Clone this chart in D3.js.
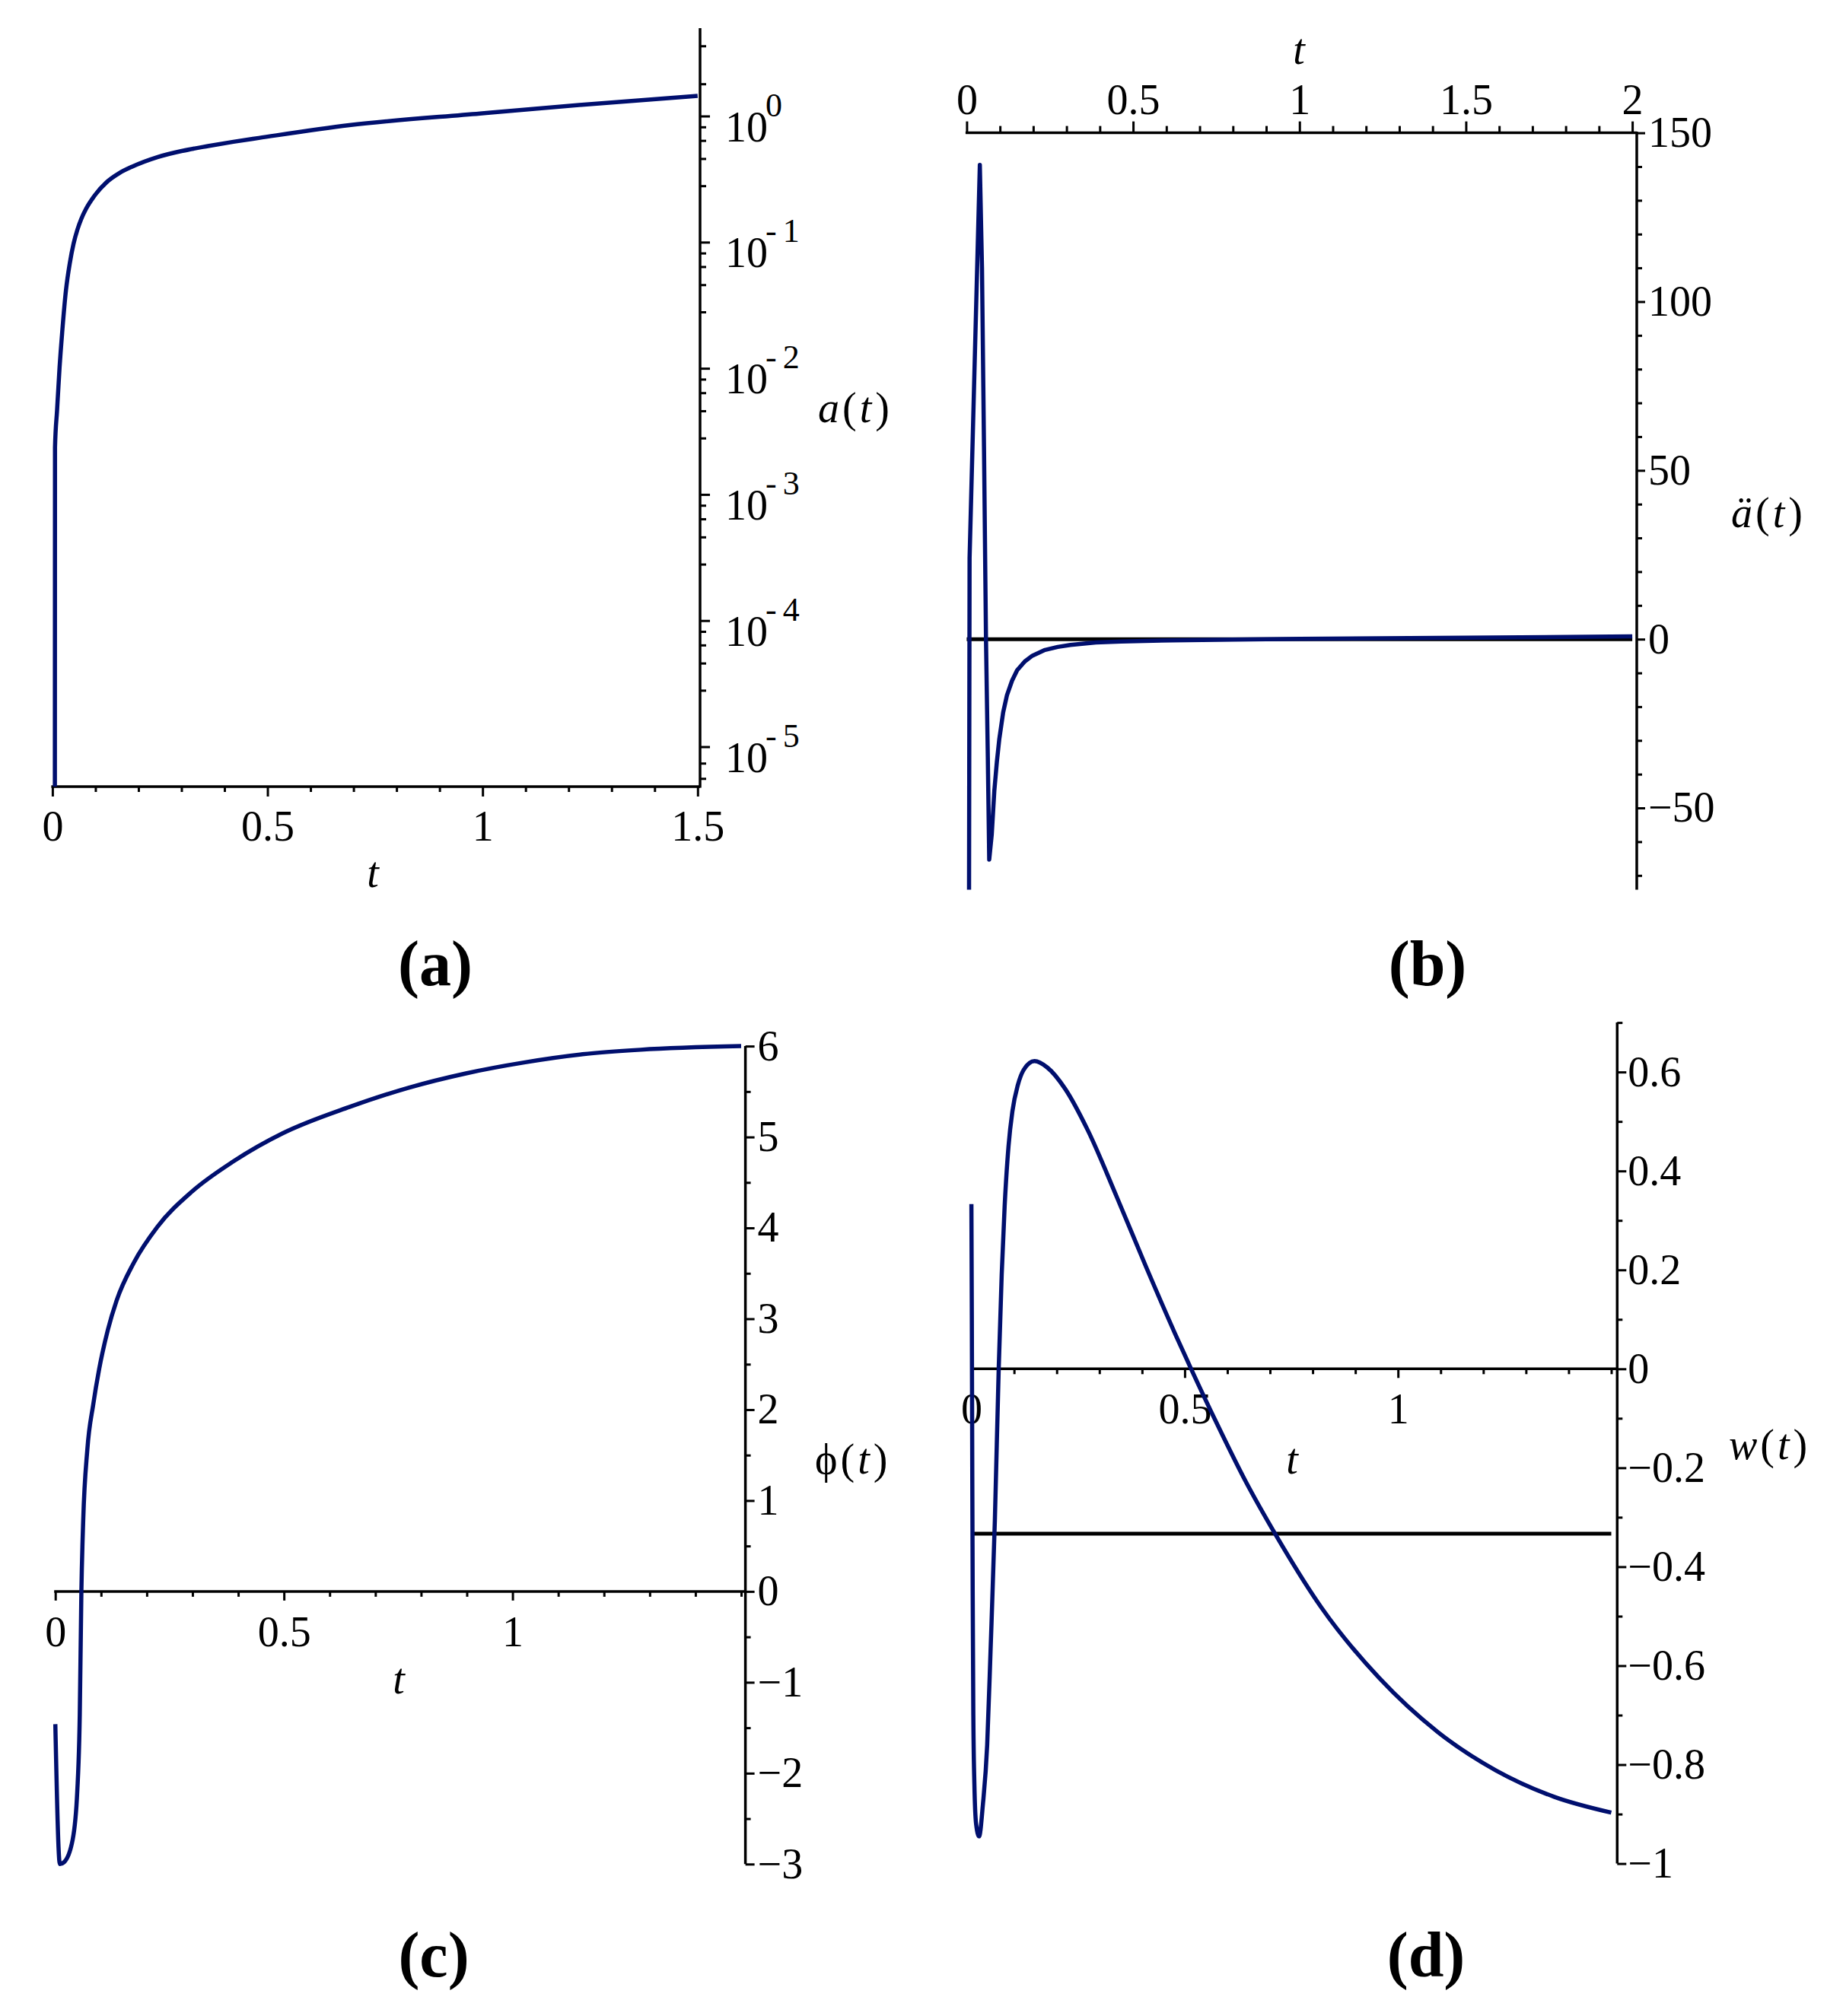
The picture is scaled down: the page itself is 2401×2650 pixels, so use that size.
<!DOCTYPE html>
<html>
<head>
<meta charset="utf-8">
<script src="https://cdn.jsdelivr.net/npm/d3@7"></script>
<style>
  body { margin: 0; background: #fff; }
  svg text { font-family: "Liberation Serif", "Times New Roman", serif; fill: #000; }
</style>
</head>
<body>
<svg id="fig" width="2401" height="2650"></svg>
<script>
// ---- (a) a(t), log scale ----
const tA = [0.0055, 0.0060, 0.0108, 0.0166, 0.0226, 0.0315, 0.0403, 0.0492, 0.058, 0.0669, 0.0786, 0.0962, 0.1258,
  0.1553, 0.1847, 0.2438, 0.3027, 0.3616, 0.4207, 0.4797, 0.69, 0.994, 1.231, 1.5];
const aA = [1e-7, 0.00236, 0.00466, 0.01016, 0.01914, 0.0417, 0.0679, 0.0975, 0.1254, 0.1524, 0.185, 0.2296, 0.2984,
  0.3524, 0.396, 0.472, 0.530, 0.578, 0.625, 0.670, 0.847, 1.047, 1.227, 1.445];
const aMajor = [1e-5, 1e-4, 1e-3, 1e-2, 1e-1, 1];
const aExp = ['-5', '-4', '-3', '-2', '-1', '0'];
const aMinor = [3.6, 1.8, 0.82, 0.64, 0.46, 0.28, 0.082, 0.064, 0.046, 0.028, 0.0082, 0.0064, 0.0046, 0.0028,
  0.00082, 0.00064, 0.00046, 0.00028, 0.000082, 0.000064, 0.000046, 0.000028, 0.0000074, 0.0000056];
const tMajorA = [0, 0.5, 1, 1.5];
const tMinorA = [0.1, 0.2, 0.3, 0.4, 0.6, 0.7, 0.8, 0.9, 1.1, 1.2, 1.3, 1.4];

// ---- (b) second derivative ----
const tB = [0.005, 0.0087, 0.0395, 0.046, 0.052, 0.058, 0.0635, 0.0677, 0.0753, 0.083, 0.0906, 0.0981, 0.1096, 0.121, 0.1363,
  0.1516, 0.1745, 0.1973, 0.2353, 0.2735, 0.3117, 0.388, 0.464, 0.6165, 0.8, 1.0, 1.5, 2.0];
const addB = [-200, 24, 140.5, 110, 57, 0, -35, -65.3, -57.9, -45.0, -36.4, -29.5, -21.7, -16.6, -12.3,
  -9.2, -6.6, -4.9, -3.2, -2.3, -1.7, -1.0, -0.7, -0.35, -0.15, 0.1, 0.45, 0.8];
const tMajorB = [0, 0.5, 1, 1.5, 2];
const tMinorB = [0.1, 0.2, 0.3, 0.4, 0.6, 0.7, 0.8, 0.9, 1.1, 1.2, 1.3, 1.4, 1.6, 1.7, 1.8, 1.9];
const yMajorB = [-50, 0, 50, 100, 150];
const yMinorB = [-70, -60, -40, -30, -20, -10, 10, 20, 30, 40, 60, 70, 80, 90, 110, 120, 130, 140];

// ---- (c) phi(t) ----
const tC = [0, 0.010, 0.019, 0.038, 0.048, 0.0535, 0.057, 0.061, 0.070, 0.083, 0.096, 0.115, 0.134, 0.172, 0.223,
  0.299, 0.389, 0.497, 0.643, 0.771, 0.898, 1.025, 1.153, 1.28, 1.5];
const phiC = [-1.46, -3.0, -2.98, -2.73, -2.2, -1.35, 0, 0.78, 1.56, 2.06, 2.45, 2.88, 3.2, 3.62, 4.01,
  4.40, 4.73, 5.04, 5.33, 5.54, 5.70, 5.82, 5.91, 5.96, 6.0];
const tMajorC = [0, 0.5, 1];
const tMinorC = [0.1, 0.2, 0.3, 0.4, 0.6, 0.7, 0.8, 0.9, 1.1, 1.2, 1.3, 1.4, 1.5];
const yMajorC = [-3, -2, -1, 0, 1, 2, 3, 4, 5, 6];
const yMinorC = [-2.5, -1.5, -0.5, 0.5, 1.5, 2.5, 3.5, 4.5, 5.5];

// ---- (d) w(t) ----
const tD = [0, 0.001, 0.002, 0.003, 0.0045, 0.007, 0.011, 0.018, 0.027, 0.037, 0.045, 0.055, 0.064, 0.071, 0.078,
  0.087, 0.096, 0.109, 0.123, 0.148, 0.178, 0.219, 0.273, 0.342, 0.41, 0.478, 0.515, 0.574, 0.642, 0.713,
  0.82, 0.956, 1.093, 1.23, 1.366, 1.5];
const wD = [0.333, 0.1, -0.2, -0.45, -0.7, -0.84, -0.92, -0.945, -0.88, -0.76, -0.567, -0.306, 0, 0.19, 0.33,
  0.45, 0.52, 0.574, 0.605, 0.622, 0.609, 0.567, 0.482, 0.345, 0.205, 0.07, 0, -0.108, -0.226, -0.335,
  -0.482, -0.625, -0.734, -0.812, -0.865, -0.897];
const wRef = -1 / 3;
const tMajorD = [0, 0.5, 1];
const tMinorD = [0.1, 0.2, 0.3, 0.4, 0.6, 0.7, 0.8, 0.9, 1.1, 1.2, 1.3, 1.4, 1.5];
const yMajorD = [-1, -0.8, -0.6, -0.4, -0.2, 0, 0.2, 0.4, 0.6];
const yMinorD = [-0.9, -0.7, -0.5, -0.3, -0.1, 0.1, 0.3, 0.5, 0.7];

const svg = d3.select('#fig');
svg.append('rect').attr('width', 2401).attr('height', 2650).attr('fill', '#fff');

const navy = '#000f6e';
const FS = 56;
const AXW = 3.5;
const SERIF = '"Liberation Serif", "Times New Roman", serif';
const fmt = v => (v < 0 ? '\u2212' + Math.abs(v) : String(v));

function axisLine(x1, y1, x2, y2) {
  svg.append('line')
    .attr('x1', x1).attr('y1', y1).attr('x2', x2).attr('y2', y2)
    .attr('stroke', '#000').attr('stroke-width', AXW);
}

function ticks(orient, scale, at, values, len, labels, pad) {
  const make = { top: d3.axisTop, bottom: d3.axisBottom, right: d3.axisRight, left: d3.axisLeft }[orient];
  const horiz = orient === 'top' || orient === 'bottom';
  const g = svg.append('g')
    .attr('transform', horiz ? `translate(0,${at})` : `translate(${at},0)`)
    .call(make(scale).tickValues(values).tickSize(len).tickSizeOuter(0)
      .tickPadding(pad || 0).tickFormat(labels ? fmt : () => ''));
  // d3 sets its own font on the group, so override afterwards
  g.attr('font-size', FS).attr('font-family', SERIF);
  g.select('.domain').remove();
  g.selectAll('.tick line').attr('stroke', '#000').attr('stroke-width', 3);
  g.selectAll('.tick text').attr('fill', '#000');
  return g;
}

// label like a(t) with italic letters
function fnLabel(x, y, head, italicHead) {
  const t = svg.append('text').attr('x', x).attr('y', y).attr('font-size', FS);
  t.append('tspan').text(head).attr('font-style', italicHead ? 'italic' : null);
  t.append('tspan').text('(').attr('dx', 4);
  t.append('tspan').text('t').attr('font-style', 'italic').attr('dx', 4);
  t.append('tspan').text(')').attr('dx', 5);
}

function tLabel(x, y) {
  svg.append('text').attr('x', x).attr('y', y).attr('font-size', FS)
    .attr('font-style', 'italic').attr('text-anchor', 'middle').text('t');
}

function panelTag(x, y, s) {
  svg.append('text').attr('x', x).attr('y', y).attr('font-size', 84)
    .attr('font-weight', 'bold').attr('text-anchor', 'middle')
    .text(`(${s})`);
}

function clip(id, x, y, w, h) {
  svg.append('clipPath').attr('id', id).append('rect')
    .attr('x', x).attr('y', y).attr('width', w).attr('height', h);
  return `url(#${id})`;
}

function curve(xs, ys, x, y, clipUrl, kind) {
  const pts = xs.map((v, i) => [v, ys[i]]);
  svg.append('path')
    .datum(pts)
    .attr('fill', 'none')
    .attr('stroke', navy)
    .attr('stroke-width', 5.5)
    .attr('stroke-linejoin', 'round')
    .attr('clip-path', clipUrl)
    .attr('d', d3.line().x(d => x(d[0])).y(d => y(d[1])).curve(kind || d3.curveLinear));
}

function refLine(x1, x2, yy) {
  svg.append('line')
    .attr('x1', x1).attr('x2', x2).attr('y1', yy).attr('y2', yy)
    .attr('stroke', '#000').attr('stroke-width', 5);
}

// ================= (a) =================
{
  const x = d3.scaleLinear().domain([0, 1.5]).range([68.9, 916.8]);
  const y = d3.scaleLog().domain([4.825e-6, 4.975]).range([1034, 37]);
  const xr = 920;
  axisLine(x(0) - 1.5, 1034, xr, 1034);
  axisLine(xr, 37, xr, 1034 + 1.5);
  ticks('bottom', x, 1034, tMinorA, 7);
  ticks('bottom', x, 1034, tMajorA, 13, true, 18);
  ticks('right', y, xr, aMinor, 8);
  ticks('right', y, xr, aMajor, 13);
  aMajor.forEach((v, i) => {
    const yy = y(v);
    svg.append('text').attr('x', 953).attr('y', yy + 33).attr('font-size', FS).text('10');
    const e = svg.append('text').attr('x', 1006).attr('y', yy).attr('font-size', 44);
    if (aExp[i][0] === '-') {
      e.append('tspan').text('-');
      e.append('tspan').text(aExp[i].slice(1)).attr('dx', 8);
    } else e.text(aExp[i]);
  });
  tLabel(490, 1166);
  fnLabel(1075, 555, 'a', true);
  const c = clip('clipA', 40, 30, 900, 1004);
  curve(tA, aA, x, y, c, d3.curveMonotoneX);
  panelTag(572, 1295, 'a');
}

// ================= (b) =================
{
  const x = d3.scaleLinear().domain([0, 2]).range([1270.4, 2145.1]);
  const y = d3.scaleLinear().domain([-74.2, 150]).range([1169.4, 174.6]);
  const xr = 2151;
  axisLine(x(0) - 1.5, 174.6, xr, 174.6);
  axisLine(xr, 174.6 - 1.5, xr, 1169.4);
  ticks('top', x, 174.6, tMinorB, 9);
  ticks('top', x, 174.6, tMajorB, 15, true, 10);
  ticks('right', y, xr, yMinorB, 7);
  ticks('right', y, xr, yMajorB, 11, true, 4);
  tLabel(1707, 84);
  fnLabel(2275, 693, '\u00e4', true);
  refLine(x(0), x(2), y(0));
  const c = clip('clipB', 1250, 176, 900, 993.4);
  curve(tB, addB, x, y, c, d3.curveLinear);
  panelTag(1876, 1295, 'b');
}

// ================= (c) =================
{
  const x = d3.scaleLinear().domain([0, 1.5]).range([72.7, 974]);
  const y = d3.scaleLinear().domain([-3, 6]).range([2450.3, 1375.1]);
  const xr = 979.6;
  axisLine(x(0) - 1.5, y(0), xr, y(0));
  axisLine(xr, y(6), xr, y(-3));
  ticks('bottom', x, y(0), tMinorC, 7);
  ticks('bottom', x, y(0), tMajorC, 12, true, 20);
  ticks('right', y, xr, yMinorC, 7);
  ticks('right', y, xr, yMajorC, 12, true, 4);
  tLabel(524, 2226);
  fnLabel(1071, 1937, '\u03d5', false);
  curve(tC, phiC, x, y, null, d3.curveMonotoneX);
  panelTag(570, 2598, 'c');
}

// ================= (d) =================
{
  const x = d3.scaleLinear().domain([0, 1.5]).range([1276.6, 2117.5]);
  const y = d3.scaleLinear().domain([-1, 0.7]).range([2449.6, 1344.1]);
  const xr = 2125.3;
  axisLine(x(0) - 1.5, y(0), xr, y(0));
  axisLine(xr, y(0.7), xr, y(-1));
  ticks('bottom', x, y(0), tMinorD, 7);
  ticks('bottom', x, y(0), tMajorD, 12, true, 20);
  ticks('right', y, xr, yMinorD, 7);
  ticks('right', y, xr, yMajorD, 12, true, 2);
  tLabel(1698, 1937);
  fnLabel(2272, 1918, 'w', true);
  refLine(x(0), x(1.5), y(wRef));
  curve(tD, wD, x, y, null, d3.curveMonotoneX);
  panelTag(1874, 2598, 'd');
}
</script>
</body>
</html>
